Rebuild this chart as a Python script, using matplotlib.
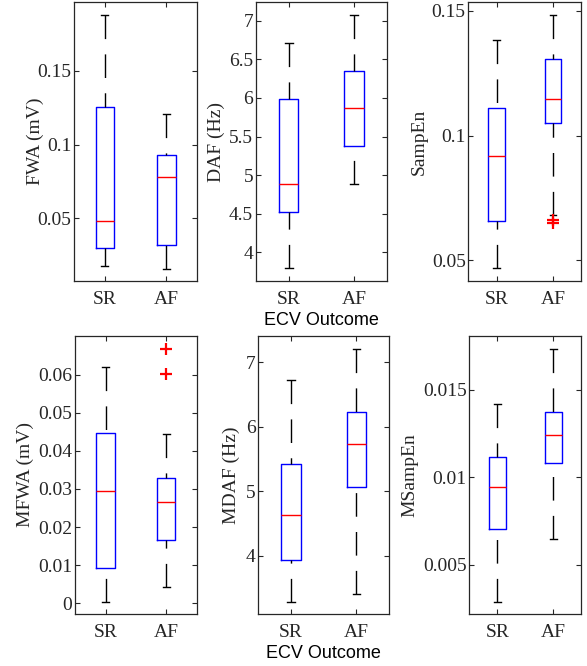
import matplotlib
matplotlib.use('Agg')
import matplotlib.pyplot as plt

groups = ['SR', 'AF']

# box stats: [SR, AF]
fwa_hi = [0.188, 0.1208]
fwa_q3 = [0.1258, 0.093]
fwa_med = [0.0484, 0.0783]
fwa_q1 = [0.030, 0.0321]
fwa_lo = [0.0178, 0.016]
fwa_out = [[], []]

daf_hi = [6.71, 7.073]
daf_q3 = [5.983, 6.349]
daf_med = [4.884, 5.863]
daf_q1 = [4.526, 5.379]
daf_lo = [3.797, 4.884]
daf_out = [[], []]

se_hi = [0.1384, 0.1484]
se_q3 = [0.1111, 0.1306]
se_med = [0.0917, 0.1146]
se_q1 = [0.0656, 0.1051]
se_lo = [0.0468, 0.068]
se_out = [[], [0.0660, 0.0648]]

mfwa_hi = [0.0619, 0.0443]
mfwa_q3 = [0.0448, 0.0330]
mfwa_med = [0.0294, 0.0266]
mfwa_q1 = [0.0093, 0.0166]
mfwa_lo = [0.0004, 0.0043]
mfwa_out = [[], [0.0667, 0.0601]]

mdaf_hi = [6.721, 7.21]
mdaf_q3 = [5.427, 6.223]
mdaf_med = [4.633, 5.737]
mdaf_q1 = [3.933, 5.062]
mdaf_lo = [3.288, 3.412]
mdaf_out = [[], []]

mse_hi = [0.01422, 0.01736]
mse_q3 = [0.01117, 0.01373]
mse_med = [0.00947, 0.0124]
mse_q1 = [0.00705, 0.01082]
mse_lo = [0.00285, 0.00646]
mse_out = [[], []]

ylabels = ['FWA (mV)', 'DAF (Hz)', 'SampEn', 'MFWA (mV)', 'MDAF (Hz)', 'MSampEn']

yticks = [
    [0.05, 0.1, 0.15],
    [4, 4.5, 5, 5.5, 6, 6.5, 7],
    [0.05, 0.1, 0.15],
    [0, 0.01, 0.02, 0.03, 0.04, 0.05, 0.06],
    [4, 5, 6, 7],
    [0.005, 0.01, 0.015],
]
ytick_labels = [
    ['0.05', '0.1', '0.15'],
    ['4', '4.5', '5', '5.5', '6', '6.5', '7'],
    ['0.05', '0.1', '0.15'],
    ['0', '0.01', '0.02', '0.03', '0.04', '0.05', '0.06'],
    ['4', '5', '6', '7'],
    ['0.005', '0.01', '0.015'],
]
ylims = [
    (0.0075, 0.1968),
    (3.63, 7.24),
    (0.0417, 0.1536),
    (-0.0028, 0.0702),
    (3.097, 7.412),
    (0.00218, 0.0181),
]

panels = [
    (fwa_lo, fwa_q1, fwa_med, fwa_q3, fwa_hi, fwa_out),
    (daf_lo, daf_q1, daf_med, daf_q3, daf_hi, daf_out),
    (se_lo, se_q1, se_med, se_q3, se_hi, se_out),
    (mfwa_lo, mfwa_q1, mfwa_med, mfwa_q3, mfwa_hi, mfwa_out),
    (mdaf_lo, mdaf_q1, mdaf_med, mdaf_q3, mdaf_hi, mdaf_out),
    (mse_lo, mse_q1, mse_med, mse_q3, mse_hi, mse_out),
]

# axes rectangles in figure fraction [left, bottom, width, height]
rects = [
    [0.126, 0.578, 0.210, 0.419],
    [0.436, 0.578, 0.223, 0.419],
    [0.798, 0.578, 0.192, 0.419],
    [0.128, 0.078, 0.207, 0.418],
    [0.440, 0.078, 0.223, 0.418],
    [0.7995, 0.078, 0.1905, 0.418],
]
label_pads = [-5, 3, 3, 3, 4, 3]

axcol = '#262626'
serif = 'Liberation Serif'
sans = 'Liberation Sans'

fig = plt.figure(figsize=(5.87, 6.66), dpi=100)

for i, (lo, q1, med, q3, hi, out) in enumerate(panels):
    ax = fig.add_axes(rects[i])
    stats = []
    for j in range(2):
        stats.append({'whislo': lo[j], 'q1': q1[j], 'med': med[j], 'q3': q3[j],
                      'whishi': hi[j], 'fliers': out[j], 'label': groups[j]})
    bp = ax.bxp(stats, positions=[1, 2], widths=0.3, capwidths=0.12,
                boxprops=dict(color='#0000ff', linewidth=1.0),
                medianprops=dict(color='#ff0000', linewidth=1.0),
                whiskerprops=dict(color='black', linewidth=1.0, linestyle=(0, (17, 11))),
                capprops=dict(color='black', linewidth=1.0),
                flierprops=dict(marker='+', markeredgecolor='#ff0000', markersize=9,
                                markeredgewidth=1.6, linestyle='none'))
    # dash pattern starts at the cap, like the original
    for w in bp['whiskers']:
        xd, yd = w.get_data()
        w.set_data(xd[::-1], yd[::-1])
    ax.set_xlim(0.5, 2.5)
    ax.set_ylim(*ylims[i])
    ax.set_yticks(yticks[i])
    ax.set_yticklabels(ytick_labels[i], fontfamily=serif, fontsize=14, color=axcol)
    ax.set_xticks([1, 2])
    ax.set_xticklabels(groups, fontfamily=serif, fontsize=14, color=axcol)
    ax.tick_params(direction='in', length=3.5, width=0.8, color=axcol,
                   top=True, right=True)
    ax.tick_params(axis='x', pad=7)
    ax.tick_params(axis='y', pad=2)
    for s in ax.spines.values():
        s.set_color(axcol)
        s.set_linewidth(0.9)
    ax.set_ylabel(ylabels[i], fontfamily=serif, fontsize=14, color=axcol,
                  labelpad=label_pads[i])
    if i in (1, 4):
        ax.set_xlabel('ECV Outcome', fontfamily=sans, fontsize=13, color='black', labelpad=3)

plt.savefig('out.png', dpi=100)
